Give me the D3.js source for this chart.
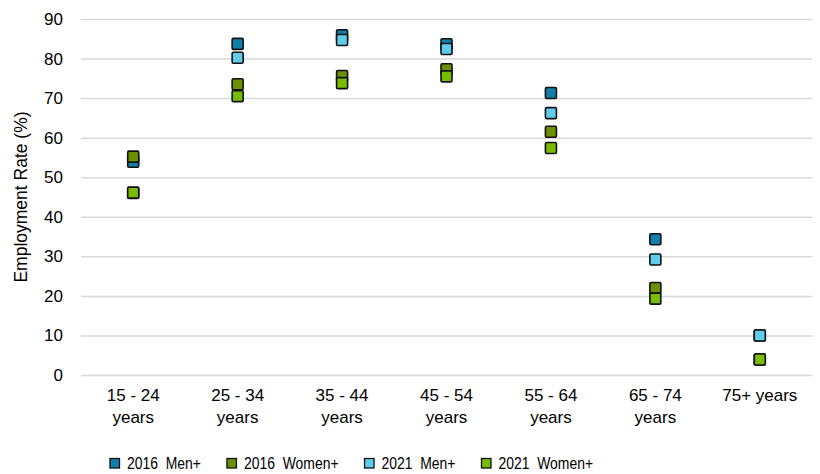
<!DOCTYPE html>
<html>
<head>
<meta charset="utf-8">
<script src="https://cdn.jsdelivr.net/npm/d3@7"></script>
<style>
  body { margin: 0; background: #fff; }
  text { font-family: "Liberation Sans", Arial, sans-serif; fill: #000; }
</style>
</head>
<body>
<div id="chart"></div>
<script>
const categories = ["15 - 24 years", "25 - 34 years", "35 - 44 years", "45 - 54 years",
    "55 - 64 years", "65 - 74 years", "75+ years"];
const seriesNames = ["2016  Men+", "2016  Women+", "2021  Men+", "2021  Women+"];
const seriesColors = ["#127fa8", "#6c9000", "#5ecdeb", "#79bb00"];
const men2016 = [53.9, 83.7, 85.9, 83.6, 71.3, 34.3, 10.0];
const women2016 = [55.2, 73.5, 75.6, 77.3, 61.5, 22.0, 3.9];
const men2021 = [46.0, 80.2, 84.7, 82.4, 66.2, 29.2, 10.0];
const women2021 = [46.1, 70.5, 73.8, 75.5, 57.4, 19.3, 3.9];
const yTicks = [0, 10, 20, 30, 40, 50, 60, 70, 80, 90];

// draw order: 2016 men, 2016 women, 2021 men, 2021 women
const series = [
    {name: seriesNames[0], color: seriesColors[0], values: men2016},
    {name: seriesNames[1], color: seriesColors[1], values: women2016},
    {name: seriesNames[2], color: seriesColors[2], values: men2021},
    {name: seriesNames[3], color: seriesColors[3], values: women2021}
];

const margin = {top: 19, right: 8, bottom: 99, left: 81},
    width = 820 - margin.left - margin.right,
    height = 474 - margin.top - margin.bottom;

const svg = d3.select("#chart")
    .append("svg")
    .attr("width", 820)
    .attr("height", 474)
    .append("g")
    .attr("transform", `translate(${margin.left},${margin.top})`);

const x = d3.scaleBand()
    .domain(categories)
    .range([0, width]);

const y = d3.scaleLinear()
    .domain([0, 90])
    .range([height, 0]);

// gridlines + y labels
const yAxis = svg.append("g")
    .call(d3.axisLeft(y).tickValues(yTicks).tickSize(-width).tickPadding(18));
yAxis.select(".domain").remove();
yAxis.selectAll(".tick line")
    .attr("stroke", "#d9d9d9")
    .attr("stroke-width", 1.5);
yAxis.selectAll(".tick text")
    .style("font-size", "17px")
    .style("font-family", "Liberation Sans, Arial, sans-serif");

// x labels (wrap "years" to a second line)
const xAxis = svg.append("g")
    .attr("transform", `translate(0,${height})`)
    .call(d3.axisBottom(x).tickSize(0).tickPadding(14));
xAxis.select(".domain").remove();
xAxis.selectAll(".tick text").each(function (d) {
    const t = d3.select(this);
    t.text(null).style("font-size", "17px")
        .style("font-family", "Liberation Sans, Arial, sans-serif");
    const m = d.match(/^(\d+ - \d+) (years)$/);
    if (m) {
        t.append("tspan").attr("x", 0).attr("dy", "0.71em").text(m[1]);
        t.append("tspan").attr("x", 0).attr("dy", "1.3em").text(m[2]);
    } else {
        t.append("tspan").attr("x", 0).attr("dy", "0.71em").text(d);
    }
});

// y title
svg.append("text")
    .attr("transform", `translate(${-54},${height / 2}) rotate(-90)`)
    .attr("text-anchor", "middle")
    .style("font-size", "17.5px")
    .text("Employment Rate (%)");

// markers
const size = 11;
series.forEach(s => {
    svg.append("g")
        .selectAll("rect")
        .data(s.values.map((v, i) => ({cat: categories[i], v: v})))
        .enter()
        .append("rect")
        .attr("x", d => x(d.cat) + x.bandwidth() / 2 - size / 2)
        .attr("y", d => y(d.v) - size / 2)
        .attr("width", size)
        .attr("height", size)
        .attr("rx", 1.2)
        .attr("fill", s.color)
        .attr("stroke", "#111")
        .attr("stroke-width", 1.6);
});

// legend (text is drawn narrow like the original)
const legend = svg.append("g")
    .attr("transform", `translate(${110 - margin.left},${463 - margin.top})`);
const squeeze = 0.82;
let lx = 0;
series.forEach(s => {
    const item = legend.append("g").attr("transform", `translate(${lx},0)`);
    item.append("rect")
        .attr("x", 0).attr("y", -4.5)
        .attr("width", 9.5).attr("height", 9.5)
        .attr("fill", s.color)
        .attr("stroke", "#111")
        .attr("stroke-width", 1.3);
    const t = item.append("text")
        .attr("transform", `translate(17,0) scale(${squeeze},1)`)
        .attr("dy", "0.36em")
        .style("font-size", "17px")
        .style("white-space", "pre")
        .text(s.name);
    lx += 17 + t.node().getComputedTextLength() * squeeze + 26;
});
</script>
</body>
</html>
